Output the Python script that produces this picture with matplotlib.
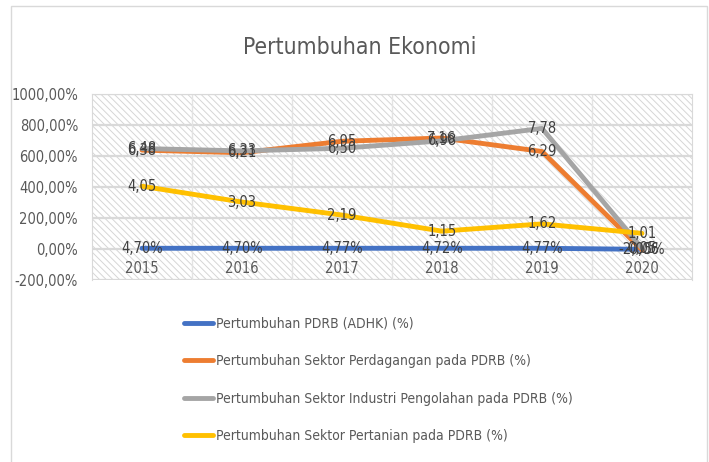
import matplotlib
matplotlib.use("Agg")
import matplotlib.pyplot as plt
from matplotlib.patches import Rectangle

years = ["2015", "2016", "2017", "2018", "2019", "2020"]
pdrb = [0.0470, 0.0470, 0.0477, 0.0472, 0.0477, -0.0205]
perdagangan = [6.38, 6.21, 6.95, 7.16, 6.29, -0.06]
industri = [6.48, 6.33, 6.50, 6.98, 7.78, 0.05]
pertanian = [4.05, 3.03, 2.19, 1.15, 1.62, 1.01]

names = [
    "Pertumbuhan PDRB (ADHK) (%)",
    "Pertumbuhan Sektor Perdagangan pada PDRB (%)",
    "Pertumbuhan Sektor Industri Pengolahan pada PDRB (%)",
    "Pertumbuhan Sektor Pertanian pada PDRB (%)",
]
colors = ["#4472C4", "#ED7D31", "#A5A5A5", "#FFC000"]
yticks = [-2, 0, 2, 4, 6, 8, 10]

plt.rcParams["font.family"] = ["DejaVu Sans"]
plt.rcParams["font.stretch"] = "condensed"
plt.rcParams["hatch.color"] = "#d6d6d6"
plt.rcParams["hatch.linewidth"] = 0.7

W, H = 709, 462
fig = plt.figure(figsize=(W / 100, H / 100), dpi=100)
fig.patch.set_facecolor("white")

fig.add_artist(Rectangle((11 / W, -0.1), (707 - 11) / W, 1.1 - 6 / H,
                         transform=fig.transFigure, fill=False,
                         edgecolor="#d9d9d9", lw=1.0))

ax = fig.add_axes([92 / W, 1 - 280 / H, 600 / W, 186 / H])
ax.set_xlim(-0.5, 5.5)
ax.set_ylim(-2, 10)
ax.set_facecolor("white")
ax.add_patch(Rectangle((0, 0), 1, 1, transform=ax.transAxes, facecolor="white",
                       edgecolor="#d6d6d6", hatch="\\\\\\\\\\", lw=0, zorder=0))

for y in yticks:
    ax.axhline(y, color="#d9d9d9", lw=1.6, zorder=1)
for i in range(len(years) - 1):
    ax.axvline(i + 0.5, color="#e3e3e3", lw=1.0, zorder=1)

x = list(range(len(years)))
series = [pdrb, perdagangan, industri, pertanian]
for vals, c, n in zip(series, colors, names):
    ax.plot(x, vals, color=c, lw=3.5, label=n, zorder=3, solid_capstyle="round")

for si, (vals, c) in enumerate(zip(series, colors)):
    for xi, v in zip(x, vals):
        if si == 0:
            s = f"{v * 100:.2f}%".replace(".", ",")
        else:
            s = f"{v:.2f}".replace(".", ",")
        ax.text(xi, v, s, ha="center", va="center", fontsize=10.5,
                color="#404040", zorder=4)

for s in ax.spines.values():
    s.set_color("#d9d9d9")
ax.spines["bottom"].set_position(("data", 0))
ax.spines["bottom"].set_visible(False)

ax.set_xticks(x)
ax.set_xticklabels(years)
ax.set_yticks(yticks)
ax.set_yticklabels([f"{v * 100:.2f}%".replace(".", ",") for v in yticks])
ax.tick_params(axis="both", length=0, labelsize=10.5, labelcolor="#595959")
ax.tick_params(axis="x", pad=8.5)
ax.tick_params(axis="y", pad=10)

fig.text(360 / W, 1 - 48 / H, "Pertumbuhan Ekonomi", ha="center", va="center",
         fontsize=16.5, color="#595959")

leg = fig.legend(loc="upper left", bbox_to_anchor=(171 / W, 1 - 304 / H),
                 frameon=False, fontsize=10, labelcolor="#595959",
                 handlelength=2.1, handletextpad=0.25, labelspacing=1.7)
for h in leg.get_lines():
    h.set_linewidth(3.5)

fig.savefig("out.png", dpi=100, facecolor="white")
